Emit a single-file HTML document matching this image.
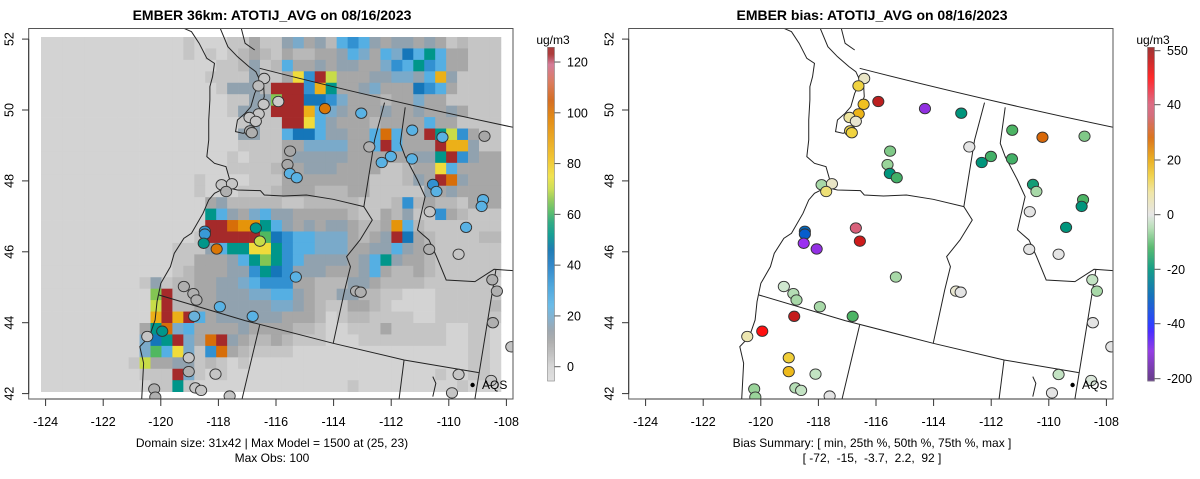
<!DOCTYPE html>
<html><head><meta charset="utf-8"><style>
html,body{margin:0;padding:0;background:#fff;}
svg{display:block;font-family:"Liberation Sans",Arial,sans-serif;}
</style></head><body>
<svg id="chart" width="1200" height="479" viewBox="0 0 1200 479" xmlns="http://www.w3.org/2000/svg">
<defs>
<clipPath id="clipL"><rect x="29" y="28.5" width="484" height="370.5"/></clipPath>
<clipPath id="clipR"><rect x="629" y="28.5" width="484" height="370.5"/></clipPath>
</defs>
<text x="272" y="20" text-anchor="middle" font-size="14" font-weight="bold">EMBER 36km: ATOTIJ_AVG on 08/16/2023</text>
<text x="872" y="20" text-anchor="middle" font-size="14" font-weight="bold">EMBER bias: ATOTIJ_AVG on 08/16/2023</text>
<text x="272" y="447" text-anchor="middle" font-size="12">Domain size: 31x42 | Max Model = 1500 at (25, 23)</text>
<text x="272" y="462" text-anchor="middle" font-size="12">Max Obs: 100</text>
<text x="872" y="447" text-anchor="middle" font-size="12">Bias Summary: [ min, 25th %, 50th %, 75th %, max ]</text>
<text x="872" y="462" text-anchor="middle" font-size="12" xml:space="preserve">[ -72,  -15,  -3.7,  2.2,  92 ]</text>
<g id="leftPanel"></g>
<g id="rightPanel"></g>
</svg>
<script>
const gridCodes = {'.':0,a:3,b:6,c:10,e:15,f:19,L:26,B:35,D:43,T:52,G:61,g:65,V:70,Y:76,o:86,p:93,O:102,R:130};
// run-length encoded rows (number = repeat count of following code), 42 cells each
const gridRows = [
"13.a3.aacaaefcebLBLeceececabaaa",
"13.a.a.abcbacbbcceLfcLfDLTLccaaa",
"16.aabeabLcceceeccfBLTBLccaaa",
"15.aaaaeaacYBRVccceeffeLoeaaaa",
"16.aeeebRRRBoTccefcccDBLcaaaa",
"17.aaeegRRDDBfcccbccfccaaaaa",
"17.aeeaRRRoLfecccecceccecaaa",
"18.aeaaRRYLecccbccccLccaaaa",
"18.eeaaLDDLeeccLOLccRTVBcaa",
"18.aaaaccffffccLRLcccRooeaa",
"17.a.aaaceeeeecccccceeTRBecc",
"17.aaaabcceeeccccaabccYLcccc",
"14.a4.aaa8caaabecROeccc",
"14.a3.aaabcccbbbccaaaaaececccc",
"15.cebbbbbaabbbbbaaabBbcbbaccc",
"15.TLecfLeecccccbaacbeaaBcbaaa",
"15.RROppTLececeecbbcpLbaaaaaaa",
"14.aRRRRRGDBLLfffcbceRDcbaaaabb",
"12.aaaeLTTYYTBLLfffcceeLecbaaaaaa",
"12.aaccceLTgTBLeeeeceLTeccbaaaaaa",
"12.abccceeBTDBeeeccceLcbbcbaaaaaa",
"9.aeabbcceefLBBBccbbbeecbbbbaaaaaa.",
"10.gRbbcceeeffLLecbbeebbaa3.aaaaaa",
"10.VRbbcceeeeeffecbaaccba4.aaaaab",
"10.oRoRLceeeeeecccb.abbaaaa2.aaaaaa",
"9.cTOfLcccceccccbba2.aaacaaaaa2.aa.",
"9.fDTRfcORecbbcbaaa3.aaaaaaaa2.aa.",
"9.fGLYfaBOcbaaaa16.aa.",
"8.aVcceeaba.a20.aa.",
"9.aaaRfa.a19.a2.aa.",
"10.aaTa14.a9.a3."
];
const stationLon = [-116.41,-116.61,-115.92,-116.43,-114.30,-113.04,-116.60,-116.92,-116.70,-116.90,-116.84,-111.27,-110.22,-108.76,-112.76,-115.51,-112.01,-112.33,-111.28,-115.60,-115.52,-115.28,-117.89,-117.53,-117.73,-110.55,-110.43,-108.81,-108.86,-110.66,-109.40,-116.70,-116.56,-118.47,-118.47,-118.51,-118.06,-110.68,-109.66,-115.31,-108.49,-108.33,-119.20,-118.87,-118.76,-113.22,-113.06,-117.95,-116.81,-118.84,-108.47,-120.47,-119.95,-107.83,-119.03,-119.03,-118.10,-109.66,-120.23,-118.80,-118.60,-120.19,-117.61,-109.89,-108.53];
const stationLat = [50.89,50.68,50.24,50.16,50.04,49.91,49.89,49.79,49.68,49.41,49.36,49.43,49.23,49.26,48.96,48.84,48.69,48.52,48.62,48.46,48.21,48.09,47.89,47.92,47.70,47.90,47.70,47.47,47.28,47.13,46.69,46.67,46.30,46.58,46.50,46.24,46.08,46.07,45.93,45.29,45.21,44.89,45.02,44.82,44.64,44.89,44.86,44.45,44.18,44.18,44.00,43.61,43.76,43.32,43.01,42.62,42.55,42.54,42.13,42.16,42.09,41.90,41.93,42.02,42.37];
const obsValues = [3,5,2,3,100,25,3,3,3,8,8,25,25,10,8,10,25,25,25,10,25,25,3,3,8,35,25,25,25,3,25,52,70,33,33,52,100,8,3,25,8,8,8,8,8,8,8,25,25,22,8,3,52,3,3,8,3,3,8,3,3,8,3,3,3];
const biasValues = [3,12,90,16,-72,-20,18,6,2,11,12,-12,27,-8,0,-8,-13,-20,-13,-6,-20,-13,-5,3,8,-18,-5,-12,-20,0,-20,40,80,-30,-32,-60,-70,0,0,-5,-3,-5,-2,-4,-5,2,0,-5,-12,85,0,5,52,0,13,17,-3,-3,-6,-4,-3,-6,0,0,-1];
const xTicks = [-124,-122,-120,-118,-116,-114,-112,-110,-108];
const yTicks = [42,44,46,48,50,52];
const obsBarTicks = [0,20,40,60,80,100,120];
const biasBarTicks = [-200,-40,-20,0,20,40,550];

const NS = 'http://www.w3.org/2000/svg';
function mk(tag, attrs, parent){ const e=document.createElementNS(NS,tag); for(const k in attrs) e.setAttribute(k,attrs[k]); if(parent) parent.appendChild(e); return e; }
function decodeRow(s){ let out='', num=''; for(const ch of s){ if(ch>='0'&&ch<='9'){ num+=ch; } else { out += ch.repeat(num?parseInt(num,10):1); num=''; } } return out.padEnd(42,'.').slice(0,42); }
function xOf(lon){ return 45.6 + (lon + 124) * 28.8; }
function yOf(lat){ return 393.6 - (lat - 42) * 35.45; }
function cellX(c){ return 41 + c * 10.95; }
function cellY(r){ return 37 + r * 11.44; }
function hex(h){ return [parseInt(h.slice(1,3),16),parseInt(h.slice(3,5),16),parseInt(h.slice(5,7),16)]; }
function interp(stops, v){
  if(v<=stops[0][0]) return stops[0][1];
  for(let i=1;i<stops.length;i++){ if(v<=stops[i][0]){ const a=stops[i-1], b=stops[i]; const t=(v-a[0])/(b[0]-a[0]); const A=hex(a[1]),B=hex(b[1]); return 'rgb('+A.map((x,j)=>Math.round(x+(B[j]-x)*t)).join(',')+')'; } }
  return stops[stops.length-1][1];
}
const obsStops = [[-6,'#dedede'],[0,'#d3d3d3'],[5,'#bcbcbc'],[10,'#a7a7a7'],[14,'#96a0a8'],[18,'#80a8c4'],[24,'#5db5e6'],[32,'#3d9ed9'],[40,'#1f7cc4'],[46,'#0a70ad'],[52,'#00968a'],[57,'#20a478'],[61,'#50b860'],[66,'#90c850'],[70,'#c8dc48'],[75,'#f0e040'],[82,'#f0c020'],[90,'#e8a010'],[98,'#e08000'],[105,'#d06010'],[112,'#d87050'],[119,'#d07090'],[123,'#a52a2a'],[500,'#a52a2a']];
function obsColor(v){ return interp(obsStops, v); }
const biasValStops = [[-200,'#5b2c83'],[-100,'#7b2fbe'],[-60,'#9b30f0'],[-45,'#3a20ff'],[-40,'#1a30ff'],[-30,'#0068c0'],[-20,'#00957c'],[-12,'#4cb464'],[-6,'#9ad49a'],[-2,'#d0e8d0'],[0,'#e4e4e4'],[5,'#ece6b0'],[10,'#f0dc50'],[16,'#f0c020'],[20,'#e8a810'],[27,'#d86808'],[33,'#d06050'],[40,'#d8607a'],[46,'#f03040'],[52,'#ff1010'],[92,'#b82020'],[550,'#a02020']];
function biasColor(v){ return interp(biasValStops, v); }
const biasPosStops = [[0,'#5b2c83'],[0.5,'#8a2be2'],[0.85,'#3a1aff'],[1,'#1a30ff'],[1.5,'#0064b8'],[2,'#00957c'],[2.4,'#4cb464'],[2.75,'#b0dcb0'],[3,'#e4e4e4'],[3.4,'#eee4a0'],[3.7,'#f0d040'],[4,'#e8a810'],[4.4,'#d86808'],[4.8,'#d06070'],[5,'#d8607a'],[5.3,'#f03040'],[5.5,'#ff1515'],[5.8,'#c81818'],[6,'#a02020']];
const biasTickY = [378.7,323.7,269.3,214.7,160,104.7,50.7];
function obsBarY(v){ return 366.7 - v * 2.539; }

const mapPaths = [
 'M678,205 Q1000,300 1340,382',
 'M415,885 L640,962 L870,1030 L1055,1080 L1250,1118',
 'M600,565 L620,570 L680,572 L690,585 L740,588 L800,585 L870,598 L950,620',
 'M1004,308 L978,420 L950,620 L972,660 L940,720 L905,770 L915,800 L900,870 L870,1030',
 'M1058,322 L1045,430 L1058,470 L1090,540 L1110,590 L1100,640 L1090,690 L1120,720 L1140,770 L1165,840 L1240,845 L1290,808 L1340,812',
 'M1295,808 L1240,1197',
 'M1055,1080 L1042,1197',
 'M678,975 L632,1197',
 'M480,85 L500,95 L520,130 L540,175 L560,190 L555,230 L548,260 L548,300 L545,360 L545,420 L540,470 L560,490 L590,500 L600,540 L595,560 L560,580 L545,600 L530,640 L500,700 L480,715 L455,760 L445,800 L420,850 L410,905 L405,960 L390,1010 L365,1040 L375,1090 L370,1197',
 'M575,85 L595,140 L620,170 L650,200 L668,215 L680,245 L665,280 L655,320 L640,340 L620,360 L615,395 L635,400 L660,385 L670,360 L680,320 L690,290 L688,250',
 'M630,85 L640,130 L665,150',
 'M1130,1130 L1138,1150 L1130,1190'
];

function drawPanel(g, off, isBias){
  const clip = mk('g',{'clip-path': isBias ? 'url(#clipR)' : 'url(#clipL)'}, g);
  if(!isBias){
    for(let r=0;r<gridRows.length;r++){
      const row = decodeRow(gridRows[r]);
      for(let c=0;c<row.length;c++){
        const v = gridCodes[row[c]] !== undefined ? gridCodes[row[c]] : 0;
        const cell = mk('rect',{x:(cellX(c)+off).toFixed(2), y:cellY(r).toFixed(2), width:'11.3', height:'11.8', fill:obsColor(v)}, clip);
        
        
      }
    }
  }
  const lines = mk('g',{transform:'translate('+off+',0) scale(0.383,0.3333)'}, clip);
  
  
  mapPaths.forEach(d=>{ mk('path',{d:d, fill:'none', stroke:'#222', 'stroke-width':'1', 'vector-effect':'non-scaling-stroke'}, lines); });
  for(let i=0;i<stationLon.length;i++){
    const v = isBias ? biasValues[i] : obsValues[i];
    const pt = mk('ellipse',{cx:(xOf(stationLon[i])+off).toFixed(2), cy:yOf(stationLat[i]).toFixed(2), rx:'5.6', ry:'5.2', fill: isBias ? biasColor(v) : obsColor(v), stroke:'#333', 'stroke-width':'0.9'}, clip);
    
    
  }
  const aqsDot = mk('circle',{cx:472.6+off, cy:385, r:2.2, fill:'#000'}, g);
  
  
  const aqs = mk('text',{x:482+off, y:389, 'font-size':'12'}, g);
  aqs.textContent = 'AQS';
  
  
  const box = mk('rect',{x:28.7+off, y:28.5, width:484.3, height:370.5, fill:'none', stroke:'#555', 'stroke-width':'1'}, g);
  
  
  const xa = mk('line',{x1:xOf(-124)+off, x2:xOf(-108)+off, y1:399, y2:399, stroke:'#333'}, g);
  
  
  xTicks.forEach(t=>{
    const x = xOf(t)+off;
    mk('line',{x1:x, x2:x, y1:399, y2:406, stroke:'#333'}, g);
    const tl = mk('text',{x:x, y:426, 'text-anchor':'middle', 'font-size':'12.5'}, g);
    tl.textContent = String(t);
    
    
  });
  const ya = mk('line',{x1:28.7+off, x2:28.7+off, y1:yOf(42), y2:yOf(52), stroke:'#333'}, g);
  
  
  yTicks.forEach(t=>{
    const y = yOf(t);
    mk('line',{x1:22+off, x2:28.7+off, y1:y, y2:y, stroke:'#333'}, g);
    const tl = mk('text',{x:0, y:0, transform:'translate('+(13.5+off)+','+y+') rotate(-90)', 'text-anchor':'middle', 'font-size':'12.5'}, g);
    tl.textContent = String(t);
    
    
  });
  const cb = mk('g',{}, g);
  
  
  const bx = 547.5+off, top=47.3, bot=381;
  for(let y=top;y<bot;y+=1){
    let col;
    if(!isBias){ const v = (366.7 - (y+0.5))/2.539; col = obsColor(v); }
    else {
      const yy = y+0.5; let p = 0;
      if(yy>=biasTickY[0]) p=0; else if(yy<=biasTickY[6]) p=6;
      else { for(let k=0;k<6;k++){ if(yy<=biasTickY[k] && yy>=biasTickY[k+1]){ p = k + (biasTickY[k]-yy)/(biasTickY[k]-biasTickY[k+1]); break; } } }
      col = interp(biasPosStops, p);
    }
    mk('rect',{x:bx, y:y, width:7, height:1.05, fill:col}, cb);
  }
  mk('rect',{x:bx, y:top, width:7, height:bot-top, fill:'none', stroke:'#888', 'stroke-width':'0.6'}, cb);
  const ticks = isBias ? biasBarTicks : obsBarTicks;
  ticks.forEach((t,k)=>{
    const y = isBias ? biasTickY[k] : obsBarY(t);
    mk('line',{x1:bx+7, x2:bx+13, y1:y, y2:y, stroke:'#555'}, cb);
    const tl = mk('text',{x:bx+19.5, y:y+4.5, 'font-size':'12.5'}, cb);
    tl.textContent = String(t);
    
    
  });
  const unit = mk('text',{x:553+off, y:44, 'text-anchor':'middle', 'font-size':'12'}, cb);
  unit.textContent = 'ug/m3';
  
  
}
drawPanel(document.getElementById('leftPanel'), 0, false);
drawPanel(document.getElementById('rightPanel'), 600, true);
</script>
</body></html>
